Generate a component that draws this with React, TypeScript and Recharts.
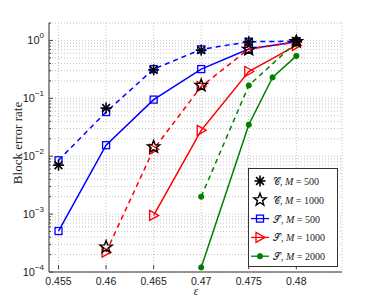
import React from 'react';
import {
  LineChart,
  Line,
  XAxis,
  YAxis,
  CartesianGrid,
} from 'recharts';

// block error rate vs epsilon
const eps = [0.455, 0.46, 0.465, 0.47, 0.475, 0.4775, 0.48];

const s500Dashed = [0.0085, 0.058, 0.32, 0.7, 0.95, null, 0.97];
const s500 = [0.00051, 0.0155, 0.095, 0.32, 0.71, null, 0.95];
const s1000Dashed = [null, 0.00022, 0.0132, 0.16, 0.71, null, 0.93];
const s1000 = [null, null, 0.00095, 0.028, 0.29, null, 0.82];
const s2000Dashed = [null, null, null, 0.002, 0.167, null, 0.93];
const s2000 = [null, null, null, 0.00012, 0.035, 0.23, 0.54];
const c500 = [0.007, 0.068, 0.31, 0.68, 0.95, null, 0.97];
const c1000 = [null, 0.00027, 0.0145, 0.167, 0.7, null, 0.95];

const xTicks = [0.455, 0.46, 0.465, 0.47, 0.475, 0.48];
const decades = [-4, -3, -2, -1, 0];

const yTicks: number[] = [];
decades.forEach((d) => {
  for (let k = 1; k <= 9; k++) {
    if (d === 0 && k > 2) break;
    yTicks.push(Number((k * Math.pow(10, d)).toPrecision(3)));
  }
});

const data = eps.map((e, i) => ({
  eps: e,
  s500Dashed: s500Dashed[i],
  s500: s500[i],
  s1000Dashed: s1000Dashed[i],
  s1000: s1000[i],
  s2000Dashed: s2000Dashed[i],
  s2000: s2000[i],
  c500: c500[i],
  c1000: c1000[i],
}));

const BLUE = '#0000ff';
const RED = '#ff0000';
const GREEN = '#008000';

function Square({ cx, cy, color }: any) {
  return <rect x={cx - 3.5} y={cy - 3.5} width={7} height={7} fill="none" stroke={color} strokeWidth={1.3} />;
}

function Triangle({ cx, cy, color }: any) {
  const p = `${cx - 4},${cy - 5} ${cx + 5},${cy} ${cx - 4},${cy + 5}`;
  return <polygon points={p} fill="none" stroke={color} strokeWidth={1.3} />;
}

function Dot({ cx, cy, color }: any) {
  return <circle cx={cx} cy={cy} r={2.6} fill={color} stroke={color} />;
}

function Asterisk({ cx, cy }: any) {
  const r = 5.5;
  const lines = [0, 45, 90, 135].map((a) => {
    const t = (a * Math.PI) / 180;
    return (
      <line
        key={a}
        x1={cx - r * Math.cos(t)}
        y1={cy - r * Math.sin(t)}
        x2={cx + r * Math.cos(t)}
        y2={cy + r * Math.sin(t)}
        stroke="#000"
        strokeWidth={1.6}
      />
    );
  });
  return <g>{lines}</g>;
}

function Pentagram({ cx, cy }: any) {
  const pts: string[] = [];
  for (let i = 0; i < 10; i++) {
    const r = i % 2 === 0 ? 6.5 : 2.7;
    const t = -Math.PI / 2 + (i * Math.PI) / 5;
    pts.push(`${cx + r * Math.cos(t)},${cy + r * Math.sin(t)}`);
  }
  return <polygon points={pts.join(' ')} fill="none" stroke="#000" strokeWidth={1.4} />;
}

function marker(Shape: any, color?: string) {
  return (props: any) => {
    const { cx, cy, index } = props;
    if (cx == null || cy == null || props.value == null) return <g key={index} />;
    return <Shape key={index} cx={cx} cy={cy} color={color} />;
  };
}

function YTick({ x, y, payload }: any) {
  const v = payload.value;
  const exp = Math.round(Math.log10(v));
  const isDecade = Math.abs(Math.log10(v) - exp) < 1e-6;
  const ax = x + 5;
  return (
    <g>
      <line x1={ax} x2={ax + (isDecade ? 4 : 2)} y1={y} y2={y} stroke="#444" />
      {isDecade && (
        <text x={x} y={y + 4} textAnchor="end" fontSize={11} fill="#222" fontFamily="Liberation Sans, Arial">
          10
          <tspan dy={-6} fontSize={8}>
            {exp === 0 ? '0' : `\u2212${-exp}`}
          </tspan>
        </text>
      )}
    </g>
  );
}

function XTick({ x, y, payload }: any) {
  return (
    <g>
      <line x1={x} x2={x} y1={y - 3} y2={y - 7} stroke="#444" />
      <text x={x} y={y + 12.5} textAnchor="middle" fontSize={10.5} fill="#222" fontFamily="Liberation Sans, Arial">
        {String(payload.value)}
      </text>
    </g>
  );
}

const legendItems = [
  { name: '\u{1D49E}', m: '500', shape: Asterisk, line: null },
  { name: '\u{1D49E}', m: '1000', shape: Pentagram, line: null },
  { name: '\u{1D4AE}', m: '500', shape: Square, line: BLUE },
  { name: '\u{1D4AE}', m: '1000', shape: Triangle, line: RED },
  { name: '\u{1D4AE}', m: '2000', shape: Dot, line: GREEN },
];

function ChartLegend() {
  return (
    <svg width={90} height={99} style={{ position: 'absolute', left: 248, top: 168, display: 'block' }}>
      <rect x={0.5} y={0.5} width={89} height={98} fill="#fff" stroke="#333" />
      {legendItems.map((it, i) => {
        const cy = 13 + i * 18.8;
        const Shape = it.shape;
        return (
          <g key={i}>
            {it.line && <line x1={3} x2={21} y1={cy} y2={cy} stroke={it.line} strokeWidth={1.3} />}
            <Shape cx={12} cy={cy} color={it.line} />
            <text x={25} y={cy + 4} fontSize={10} fontFamily="Liberation Serif, DejaVu Serif" fill="#222">
              {it.name}, <tspan fontStyle="italic">M</tspan> = {it.m}
            </text>
          </g>
        );
      })}
    </svg>
  );
}

function AxisTitles() {
  return (
    <svg width={378} height={307} style={{ position: 'absolute', left: 0, top: 0, pointerEvents: 'none' }}>
      <text x={196} y={295} textAnchor="middle" fontSize={11.5} fontStyle="italic" fontFamily="Liberation Serif, serif" fill="#222">
        ε
      </text>
      <text
        x={0}
        y={0}
        transform="translate(22, 143) rotate(-90)"
        textAnchor="middle"
        fontSize={13}
        fontFamily="Liberation Serif, serif"
        fill="#222"
      >
        Block error rate
      </text>
    </svg>
  );
}

export default function App() {
  return (
    <div style={{ position: 'absolute', left: 0, top: 0, width: 378, height: 307, background: '#fff' }}>
      <LineChart width={378} height={307} data={data} margin={{ top: 23, right: 36, left: 0, bottom: 0 }}>
        <CartesianGrid stroke="#c4c4c4" strokeDasharray="1 2" />
        <XAxis
          dataKey="eps"
          type="number"
          domain={[0.454, 0.4848]}
          ticks={xTicks}
          allowDataOverflow
          height={35}
          tickSize={0}
          tickMargin={0}
          tick={<XTick />}
          axisLine={{ stroke: '#333' }}
          tickLine={false}
        />
        <XAxis xAxisId="top" orientation="top" type="number" domain={[0.454, 0.4848]} height={0} tick={false} axisLine={{ stroke: '#333' }} tickLine={false} />
        <YAxis
          scale="log"
          type="number"
          domain={[0.0001, 2]}
          ticks={yTicks}
          allowDataOverflow
          width={49}
          tickSize={0}
          tickMargin={5}
          tick={<YTick />}
          interval={0}
          axisLine={{ stroke: '#333' }}
          tickLine={false}
        />
        <YAxis yAxisId="right" orientation="right" width={0} tick={false} axisLine={{ stroke: '#333' }} tickLine={false} />
        <Line dataKey="s500Dashed" stroke={BLUE} strokeWidth={1.5} strokeDasharray="5 4" connectNulls dot={marker(Square, BLUE)} isAnimationActive={false} />
        <Line dataKey="s500" stroke={BLUE} strokeWidth={1.5} connectNulls dot={marker(Square, BLUE)} isAnimationActive={false} />
        <Line dataKey="s1000Dashed" stroke={RED} strokeWidth={1.5} strokeDasharray="5 4" connectNulls dot={marker(Triangle, RED)} isAnimationActive={false} />
        <Line dataKey="s1000" stroke={RED} strokeWidth={1.5} connectNulls dot={marker(Triangle, RED)} isAnimationActive={false} />
        <Line dataKey="s2000Dashed" stroke={GREEN} strokeWidth={1.5} strokeDasharray="5 4" connectNulls dot={marker(Dot, GREEN)} isAnimationActive={false} />
        <Line dataKey="s2000" stroke={GREEN} strokeWidth={1.5} connectNulls dot={marker(Dot, GREEN)} isAnimationActive={false} />
        <Line dataKey="c500" stroke="none" dot={marker(Asterisk)} isAnimationActive={false} />
        <Line dataKey="c1000" stroke="none" dot={marker(Pentagram)} isAnimationActive={false} />
      </LineChart>
      <ChartLegend />
      <AxisTitles />
    </div>
  );
}
